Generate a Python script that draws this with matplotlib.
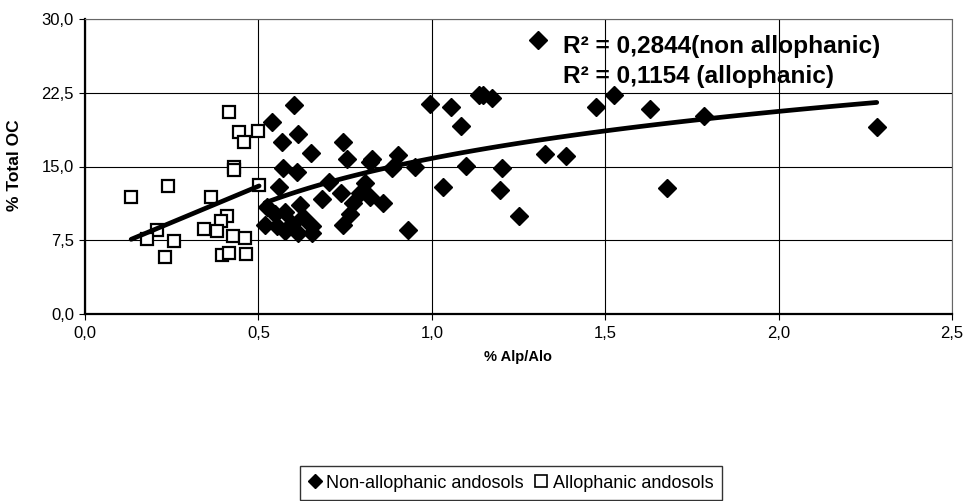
import numpy as np
import matplotlib
matplotlib.use("Agg")
import matplotlib.pyplot as plt
from matplotlib.lines import Line2D

plt.rcParams['font.family'] = ['Liberation Sans', 'DejaVu Sans']

# Non-allophanic andosols (% Alp/Alo, % Total OC)
nonallo_x = [0.604, 0.538, 0.615, 0.567, 0.651, 0.745, 0.756, 0.827, 0.822, 0.903,
             0.884, 0.952, 0.995, 1.055, 1.084, 1.136, 1.100, 1.033, 0.570, 0.610,
             0.560, 0.704, 0.682, 0.737, 0.793, 0.822, 0.858, 0.807, 0.774, 0.764,
             0.745, 0.932, 0.524, 0.519, 0.548, 0.577, 0.620, 0.630, 0.577, 0.615,
             0.654, 0.654, 0.596, 0.553, 1.307, 1.149, 1.175, 1.473, 1.526, 1.629,
             1.785, 2.283, 1.203, 1.197, 1.251, 1.326, 1.387, 1.679]
nonallo_y = [21.25, 19.5, 18.3, 17.5, 16.4, 17.5, 15.8, 15.8, 15.5, 16.2,
             14.8, 15.0, 21.4, 21.1, 19.1, 22.3, 15.1, 12.95, 14.8, 14.4,
             12.9, 13.4, 11.7, 12.3, 12.3, 11.9, 11.25, 13.3, 11.25, 10.2,
             9.05, 8.5, 10.9, 9.05, 10.2, 10.4, 11.1, 9.9, 8.4, 8.2,
             8.2, 8.9, 9.2, 8.9, 27.9, 22.3, 22.0, 21.1, 22.3, 20.85,
             20.1, 19.05, 14.8, 12.6, 9.97, 16.3, 16.1, 12.85]

# Allophanic andosols
allo_x = [0.416, 0.444, 0.500, 0.458, 0.430, 0.430, 0.502, 0.133, 0.240, 0.362,
          0.409, 0.391, 0.343, 0.380, 0.426, 0.461, 0.207, 0.178, 0.257, 0.231,
          0.394, 0.416, 0.463]
allo_y = [20.5, 18.5, 18.6, 17.5, 15.0, 14.6, 13.1, 11.9, 13.0, 11.9,
          10.0, 9.5, 8.6, 8.4, 7.9, 7.7, 8.5, 7.6, 7.4, 5.8,
          6.0, 6.2, 6.1]

x_ticks = [0.0, 0.5, 1.0, 1.5, 2.0, 2.5]
y_ticks = [0.0, 7.5, 15.0, 22.5, 30.0]
r2_text = ["R² = 0,2844(non allophanic)", "R² = 0,1154 (allophanic)"]
legend_labels = ["Non-allophanic andosols", "Allophanic andosols"]


def fmt(v):
    return f"{v:.1f}".replace(".", ",")


def log_trend(x, y):
    x = np.asarray(x); y = np.asarray(y)
    b, a = np.polyfit(np.log(x), y, 1)
    xs = np.linspace(x.min(), x.max(), 100)
    return xs, a + b * np.log(xs)


def lin_trend(x, y):
    x = np.asarray(x); y = np.asarray(y)
    b, a = np.polyfit(x, y, 1)
    xs = np.array([x.min(), x.max()])
    return xs, a + b * xs


fig = plt.figure(figsize=(9.70, 5.01), dpi=100)
ax = fig.add_axes([85/970, 1 - 314/501, (952-85)/970, (314-19)/501])

ax.set_xlim(0, 2.5)
ax.set_ylim(0, 30)
ax.set_xticks(x_ticks)
ax.set_yticks(y_ticks)
ax.set_xticklabels([fmt(v) for v in x_ticks])
ax.set_yticklabels([fmt(v) for v in y_ticks])
ax.grid(True, color='black', linewidth=0.8)
ax.set_axisbelow(True)

ax.plot(allo_x, allo_y, linestyle='none', marker='s', markersize=8.5,
        markerfacecolor='white', markeredgecolor='black', markeredgewidth=1.6, zorder=3)
ax.plot(nonallo_x, nonallo_y, linestyle='none', marker='D', markersize=8.8,
        markerfacecolor='black', markeredgecolor='black', zorder=3)

xs, ys = log_trend(nonallo_x, nonallo_y)
ax.plot(xs, ys, color='black', linewidth=3.4, zorder=4, solid_capstyle='round')
xs, ys = lin_trend(allo_x, allo_y)
ax.plot(xs, ys, color='black', linewidth=3.4, zorder=4, solid_capstyle='round')

for side in ['top', 'right']:
    ax.spines[side].set_color('#666666')
    ax.spines[side].set_linewidth(0.8)
    ax.spines[side].set_linestyle((0, (1, 1)))
for side in ['left', 'bottom']:
    ax.spines[side].set_color('black')
    ax.spines[side].set_linewidth(1.6)

ax.tick_params(axis='both', direction='out', length=4, width=0.8, labelsize=12)
ax.tick_params(axis='x', pad=5)
ax.tick_params(axis='y', pad=4)

ax.set_xlabel("% Alp/Alo", fontsize=10.5, fontweight='bold')
ax.set_ylabel("% Total OC", fontsize=12.5, fontweight='bold')
ax.xaxis.set_label_coords(0.5, -(350 - 314) / (314 - 19), transform=ax.transAxes)
ax.yaxis.set_label_coords(-(85 - 22) / (952 - 85), (314 - 165) / (314 - 19), transform=ax.transAxes)

fig.text(563/970, 1 - 47/501, r2_text[0], fontsize=17.6, fontweight='bold',
         va='center', ha='left')
fig.text(563/970, 1 - 76/501, r2_text[1], fontsize=17.6, fontweight='bold',
         va='center', ha='left')

handles = [Line2D([], [], linestyle='none', marker='D', markersize=7,
                  markerfacecolor='black', markeredgecolor='black'),
           Line2D([], [], linestyle='none', marker='s', markersize=8,
                  markerfacecolor='white', markeredgecolor='black', markeredgewidth=1.2)]
leg = fig.legend(handles, legend_labels, loc='center', bbox_to_anchor=(511/970, 1 - 483/501),
                 ncol=2, frameon=True, fancybox=False, fontsize=13,
                 handlelength=0.7, handletextpad=0.3, columnspacing=0.6,
                 borderpad=0.45, borderaxespad=0)
leg.get_frame().set_edgecolor('black')
leg.get_frame().set_linewidth(1.0)

fig.savefig("out.png", dpi=100)
